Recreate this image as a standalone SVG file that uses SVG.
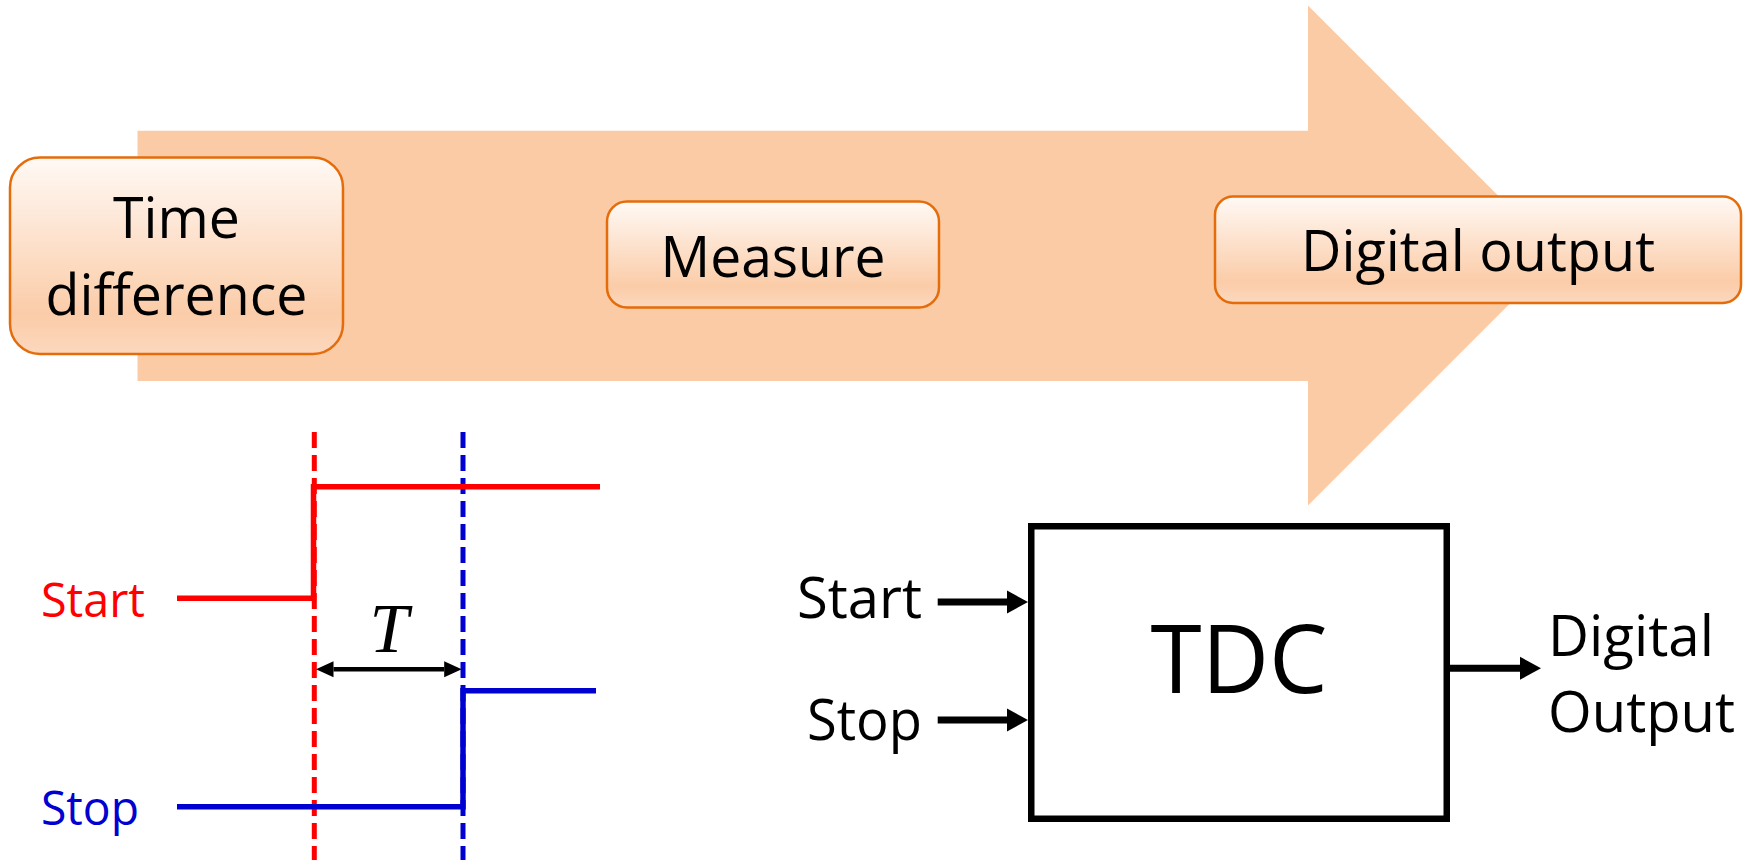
<svg xmlns="http://www.w3.org/2000/svg" width="1753" height="860" viewBox="0 0 1753 860">
<defs>
<linearGradient id="boxg" x1="0" y1="0" x2="0" y2="1">
<stop offset="0" stop-color="#FFF9F5"/>
<stop offset="0.8" stop-color="#FBCCA8"/>
<stop offset="1" stop-color="#FCD8BE"/>
</linearGradient>
<marker id="ah" markerUnits="userSpaceOnUse" markerWidth="24" markerHeight="26" refX="0" refY="12" orient="auto" viewBox="0 0 24 24">
<path d="M0,0.5 L21,12 L0,23.5 z" fill="#000"/>
</marker>
<marker id="ahs" markerUnits="userSpaceOnUse" markerWidth="18" markerHeight="17" refX="0" refY="8.5" orient="auto-start-reverse" viewBox="0 0 18 17">
<path d="M0,0.5 L17.5,8.5 L0,16.5 z" fill="#000"/>
</marker>
<style>
.lbl{font-family:"Open Sans","Liberation Sans",sans-serif;fill:#000;}
.box{fill:url(#boxg);stroke:#E46C0A;stroke-width:2.5;}
.sig{fill:none;stroke-width:5.5;}
.dash{fill:none;stroke-width:5;stroke-dasharray:16 7;}
.blk{stroke:#000;stroke-width:6.5;fill:none;}
</style>
</defs>

<g id="flow-arrow">
<polygon points="137.5,130.7 1308,130.7 1308,5.6 1558,255.5 1308,505.5 1308,381 137.5,381" fill="#FBCBA6"/>
</g>

<g id="node-time-difference">
<rect class="box" x="10" y="157.5" width="333" height="196.5" rx="30"/>
<text class="lbl" x="176.5" y="238" font-size="57" text-anchor="middle" textLength="127" lengthAdjust="spacingAndGlyphs">Time</text>
<text class="lbl" x="176.5" y="315" font-size="57" text-anchor="middle" textLength="262" lengthAdjust="spacingAndGlyphs">difference</text>
</g>

<g id="node-measure">
<rect class="box" x="607" y="201.5" width="332" height="106" rx="20"/>
<text class="lbl" x="773" y="277" font-size="57" text-anchor="middle" textLength="225" lengthAdjust="spacingAndGlyphs">Measure</text>
</g>

<g id="node-digital-output">
<rect class="box" x="1215" y="196.5" width="526" height="106.5" rx="18"/>
<text class="lbl" x="1478" y="271" font-size="57" text-anchor="middle" textLength="354" lengthAdjust="spacingAndGlyphs">Digital output</text>
</g>

<g id="timing">
<line class="dash" x1="314.3" y1="432" x2="314.3" y2="860" stroke="#FF0000"/>
<line class="dash" x1="463" y1="432" x2="463" y2="860" stroke="#0000D0"/>
<path class="sig" d="M177,598.3 H313.5 V486.7 H600" stroke="#FF0000"/>
<path class="sig" d="M177,806.7 H463 V690.7 H596" stroke="#0000D0"/>
<text x="41" y="616.7" font-family="Open Sans, Liberation Sans, sans-serif" font-size="47" fill="#FF0000" textLength="104" lengthAdjust="spacingAndGlyphs">Start</text>
<text x="41" y="825" font-family="Open Sans, Liberation Sans, sans-serif" font-size="47" fill="#0000D0" textLength="98" lengthAdjust="spacingAndGlyphs">Stop</text>
<text x="389" y="652" font-family="Liberation Serif, serif" font-style="italic" font-size="70" text-anchor="middle" fill="#000">T</text>
</g>

<g id="node-tdc">
<rect class="blk" x="1031.25" y="526.25" width="415.5" height="292.5"/>
<text class="lbl" x="1239" y="693" font-size="96" text-anchor="middle" textLength="177" lengthAdjust="spacingAndGlyphs">TDC</text>
</g>

<g id="labels-tdc">
<text class="lbl" x="797" y="618" font-size="56" textLength="125" lengthAdjust="spacingAndGlyphs">Start</text>
<text class="lbl" x="807" y="740" font-size="56" textLength="115" lengthAdjust="spacingAndGlyphs">Stop</text>
<text class="lbl" x="1548" y="656" font-size="57" textLength="166" lengthAdjust="spacingAndGlyphs">Digital</text>
<text class="lbl" x="1548" y="732" font-size="57" textLength="187" lengthAdjust="spacingAndGlyphs">Output</text>
</g>

<g id="connectors">
<line x1="333.5" y1="669.3" x2="444.2" y2="669.3" stroke="#000" stroke-width="4.5" marker-start="url(#ahs)" marker-end="url(#ahs)"/>
<line x1="937.7" y1="602" x2="1007" y2="602" stroke="#000" stroke-width="7" marker-end="url(#ah)"/>
<line x1="937.7" y1="720" x2="1007" y2="720" stroke="#000" stroke-width="7" marker-end="url(#ah)"/>
<line x1="1450" y1="668.3" x2="1520" y2="668.3" stroke="#000" stroke-width="7" marker-end="url(#ah)"/>
</g>
</svg>
